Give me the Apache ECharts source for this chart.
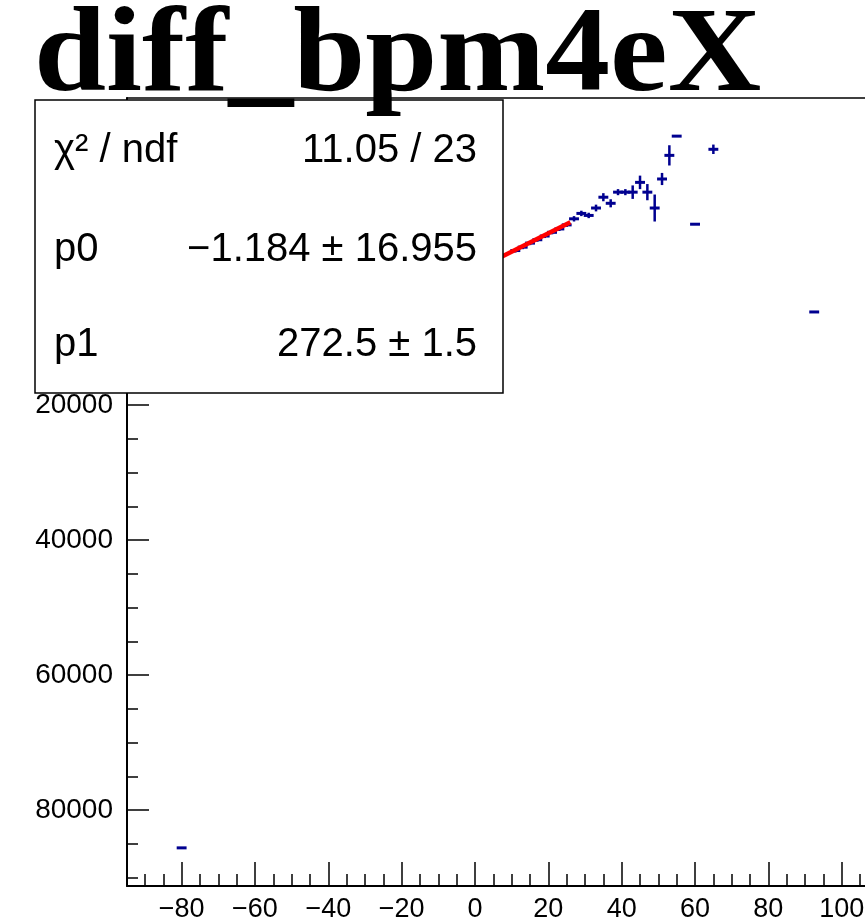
<!DOCTYPE html>
<html>
<head>
<meta charset="utf-8">
<script src="https://cdn.jsdelivr.net/npm/echarts@6/dist/echarts.min.js"></script>
<style>html,body{margin:0;padding:0;background:#fff;}#c{width:865px;height:918px;}</style>
</head>
<body>
<div id="c"></div>
<script>
// ---- data ----
const titleText = 'diff_bpm4eX';
const binX   = [11, 13, 15, 17, 19, 21, 23, 25, 27, 29, 31, 33, 35, 37, 39, 41, 43, 45, 47, 49, 51, 53, 55, 60, 65, 92.5, -80];
const binY   = [2900, 3400, 4000, 4500, 5050, 5600, 6100, 6700, 7600, 8400, 8100, 9200, 10800, 9900, 11550, 11550, 11550, 13000, 11550, 9200, 13500, 17000, 19850, 6800, 17900, -6200, -85600];
const binErr = [300, 300, 300, 300, 300, 300, 300, 300, 400, 400, 400, 500, 600, 600, 450, 450, 1000, 1000, 1200, 2000, 900, 1500, 0, 0, 700, 0, 0];
const binHalfWidth = 1.35;
const fitX = [-24, 26];
const fitY = [-6541, 7084];
const xMajorTicks = [-80, -60, -40, -20, 0, 20, 40, 60, 80, 100];
const xMinorTicks = [-90, -85, -75, -70, -65, -55, -50, -45, -35, -30, -25, -15, -10, -5, 5, 10, 15, 25, 30, 35, 45, 50, 55, 65, 70, 75, 85, 90, 95, 105];
const yMajorTicks = [-80000, -60000, -40000, -20000, 0, 20000];
const yMinorTicks = [-90000, -85000, -75000, -70000, -65000, -55000, -50000, -45000, -35000, -30000, -25000, -15000, -10000, -5000, 5000, 10000, 15000, 25000];
const statLabels = ['χ² / ndf', 'p0', 'p1'];
const statValues = ['11.05 / 23', '−1.184 ± 16.955', '272.5 ± 1.5'];

const X_MIN = -94.9, X_MAX = 106.35, Y_MIN = -91250, Y_MAX = 25500;
const font = 'Liberation Sans, Arial, sans-serif';

const chart = echarts.init(document.getElementById('c'), null, {renderer: 'canvas'});

function xAxisDef(ticks, len, showLabels, showLine, pos) {
  return {
    type: 'value', min: X_MIN, max: X_MAX, position: pos || 'bottom',
    splitLine: {show: false},
    axisLine: {show: showLine, onZero: false, lineStyle: {color: '#000', width: pos === 'top' ? 1.5 : 2}},
    axisTick: {show: ticks.length > 0, inside: true, length: len, customValues: ticks, lineStyle: {color: '#000', width: 1.5}},
    axisLabel: {show: showLabels, customValues: ticks, margin: 10, color: '#000', fontSize: 27, fontFamily: font,
      formatter: v => (v < 0 ? '\u2212' + Math.abs(v) : String(v))}
  };
}
function yAxisDef(ticks, len, showLabels, showLine) {
  return {
    type: 'value', min: Y_MIN, max: Y_MAX, position: 'left',
    splitLine: {show: false},
    axisLine: {show: showLine, onZero: false, lineStyle: {color: '#000', width: 2}},
    axisTick: {show: true, inside: true, length: len, customValues: ticks, lineStyle: {color: '#000', width: 1.5}},
    axisLabel: {show: showLabels, customValues: ticks, margin: 14, color: '#000', fontSize: 28, fontFamily: font,
      formatter: v => String(Math.abs(v))}
  };
}

const statGraphics = [];
statGraphics.push({type: 'rect', shape: {x: 35, y: 100, width: 468, height: 293},
  style: {fill: '#fff', stroke: '#000', lineWidth: 1.5}, z: 100});
const rowY = [151, 250, 345];
statLabels.forEach((t, i) => {
  statGraphics.push({type: 'text', x: 54, y: rowY[i], z: 101,
    style: {text: t, font: '40px ' + font, fill: '#000', textAlign: 'left', textVerticalAlign: 'middle', verticalAlign: 'middle'}});
});
statValues.forEach((t, i) => {
  statGraphics.push({type: 'text', x: 477, y: rowY[i], z: 101,
    style: {text: t, font: '40px ' + font, fill: '#000', textAlign: 'right', textVerticalAlign: 'middle', verticalAlign: 'middle'}});
});
statGraphics.push({type: 'text', x: 34, y: 59, scaleX: 1.08, z: 110,
  style: {text: titleText, font: 'bold 120px "Liberation Serif", "Times New Roman", serif', fill: '#000',
    textAlign: 'left', textVerticalAlign: 'middle', verticalAlign: 'middle'}});

const option = {
  animation: false,
  backgroundColor: '#fff',
  grid: {left: 127, top: 98, right: 0, bottom: 32, show: false, outerBoundsMode: 'none', containLabel: false},
  xAxis: [
    xAxisDef(xMajorTicks, 24, true, true),
    xAxisDef(xMinorTicks, 12, false, false),
    xAxisDef([], 0, false, true, 'top')
  ],
  yAxis: [yAxisDef(yMajorTicks, 22, true, true), yAxisDef(yMinorTicks, 11, false, false)],
  graphic: statGraphics,
  series: [
    {
      type: 'custom', xAxisIndex: 0, yAxisIndex: 0, z: 3,
      data: binX.map((x, i) => [x, binY[i], binErr[i]]),
      renderItem: function (params, api) {
        const x = api.value(0), y = api.value(1), e = api.value(2);
        const l = api.coord([x - binHalfWidth, y]);
        const r = api.coord([x + binHalfWidth, y]);
        const children = [{type: 'line', shape: {x1: l[0], y1: l[1], x2: r[0], y2: r[1]},
          style: {stroke: '#000090', lineWidth: 3}}];
        if (e > 0) {
          const t = api.coord([x, y + e]);
          const b = api.coord([x, y - e]);
          children.push({type: 'line', shape: {x1: t[0], y1: t[1], x2: b[0], y2: b[1]},
            style: {stroke: '#000090', lineWidth: 2.5}});
        }
        return {type: 'group', children: children};
      }
    },
    {
      type: 'line', xAxisIndex: 0, yAxisIndex: 0, z: 4,
      data: fitX.map((x, i) => [x, fitY[i]]),
      showSymbol: false, symbol: 'none',
      lineStyle: {color: '#ff0000', width: 4.5}
    }
  ]
};
chart.setOption(option);
</script>
</body>
</html>
